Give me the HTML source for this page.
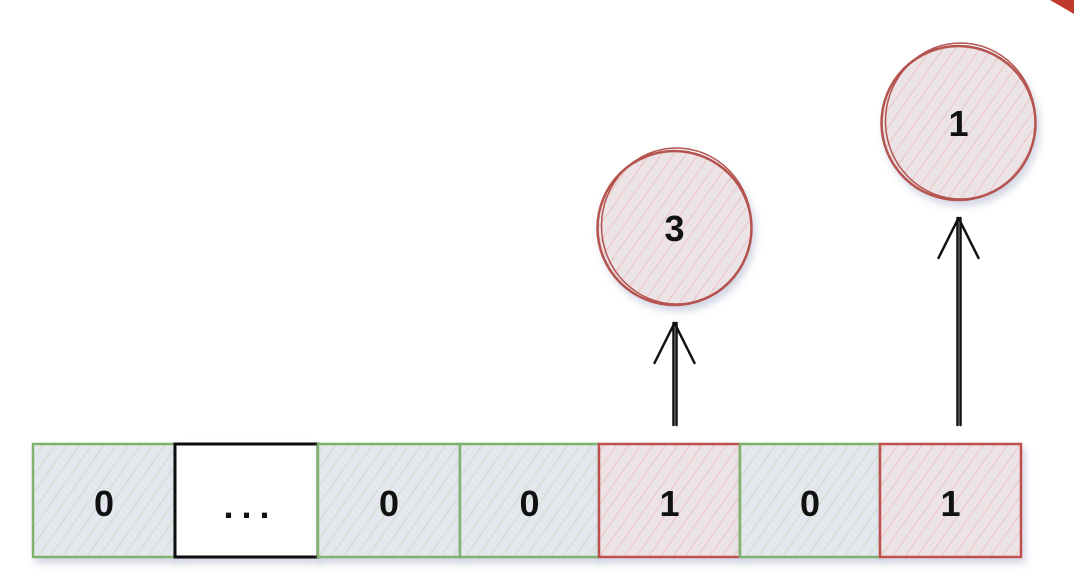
<!DOCTYPE html>
<html><head><meta charset="utf-8"><style>
html,body{margin:0;padding:0;background:#fff;width:1074px;height:574px;overflow:hidden}
svg{display:block}
text{font-family:"Liberation Sans",sans-serif;font-weight:bold;fill:#111}
</style></head><body>
<svg id="c" width="1074" height="574" viewBox="0 0 1074 574">
<defs>
<pattern id="hg" width="10" height="10" patternUnits="userSpaceOnUse" patternTransform="rotate(35)">
<rect width="10" height="10" fill="#e4e7ee"/><line x1="0" y1="0" x2="0" y2="10" stroke="#c4ddb8" stroke-width="1.5"/></pattern>
<pattern id="hr" width="10" height="10" patternUnits="userSpaceOnUse" patternTransform="rotate(35)">
<rect width="10" height="10" fill="#ebe3e6"/><line x1="0" y1="0" x2="0" y2="10" stroke="#efb8b4" stroke-width="1.5"/></pattern>
<filter id="sh" x="-20%" y="-20%" width="140%" height="140%"><feDropShadow dx="3" dy="5" stdDeviation="4" flood-color="#9aa2c0" flood-opacity="0.45"/></filter>
</defs>
<path d="M1050 0 L1074 0 L1074 14 Z" fill="#c0392b"/>
<g id="cells"></g>
<g id="circles"></g>
</svg>
<script>
const cellLabels=["0","...","0","0","1","0","1"];
const cellKinds=["g","w","g","g","r","g","r"];
const circleLabels=["3","1"];
const circleCell=[4,6];
const circleCy=[228,123];
const ns="http://www.w3.org/2000/svg";
const edges=[33,175,318,460,599,740,880,1021];
const circleDx=[5,8];
const cellTop=444,cellBot=557;
const cg=document.getElementById('cells');
const colors={g:"#7fb36d",r:"#c0504d",w:"#111"};
cellLabels.forEach((lab,i)=>{
  const x0=edges[i],x1=edges[i+1];
  const g=document.createElementNS(ns,'g');
  
  
  const r=document.createElementNS(ns,'rect');
  r.setAttribute('x',x0);r.setAttribute('y',cellTop);r.setAttribute('width',x1-x0);r.setAttribute('height',cellBot-cellTop);
  const k=cellKinds[i];
  r.setAttribute('fill',k==='g'?'url(#hg)':k==='r'?'url(#hr)':'#fff');
  r.setAttribute('stroke',colors[k]);r.setAttribute('stroke-width',k==='w'?3:2.5);
  r.setAttribute('filter','url(#sh)');
  g.appendChild(r);
  const t=document.createElementNS(ns,'text');
  t.setAttribute('x',(x0+x1)/2+(k==='w'?4:0));t.setAttribute('y',k==='w'?518:516);t.setAttribute('text-anchor','middle');
  t.setAttribute('font-size','36');t.textContent=lab;
  if(k==='w') t.setAttribute('letter-spacing','8');
  
  
  g.appendChild(t);
  cg.appendChild(g);
});
const cc=document.getElementById('circles');
circleLabels.forEach((lab,i)=>{
  const ci=circleCell[i];
  const cx=(edges[ci]+edges[ci+1])/2+circleDx[i], cy=circleCy[i], R=77;
  const g=document.createElementNS(ns,'g');
  
  
  const c=document.createElementNS(ns,'circle');
  c.setAttribute('cx',cx);c.setAttribute('cy',cy);c.setAttribute('r',R);
  c.setAttribute('fill','url(#hr)');c.setAttribute('stroke','#b5534f');c.setAttribute('stroke-width','2.5');
  c.setAttribute('filter','url(#sh)');
  g.appendChild(c);
  const c2=document.createElementNS(ns,'ellipse');
  c2.setAttribute('cx',cx+2);c2.setAttribute('cy',cy-2);c2.setAttribute('rx',R-2);c2.setAttribute('ry',R+1);
  c2.setAttribute('fill','none');c2.setAttribute('stroke','#b5534f');c2.setAttribute('stroke-width','1.5');
  g.appendChild(c2);
  const t=document.createElementNS(ns,'text');
  t.setAttribute('x',cx);t.setAttribute('y',cy+13);t.setAttribute('text-anchor','middle');
  t.setAttribute('font-size','36');t.textContent=lab;
  g.appendChild(t);
  const a=document.createElementNS(ns,'path');
  const ty=cy+R+18;
  a.setAttribute('d',`M${cx-1} 425 L${cx-1} ${ty} M${cx+2} 425 L${cx+2} ${ty} M${cx-20} ${ty+40} L${cx} ${ty} L${cx+20} ${ty+40}`);
  a.setAttribute('fill','none');a.setAttribute('stroke','#111');a.setAttribute('stroke-width','2.5');
  a.setAttribute('stroke-linecap','round');a.setAttribute('stroke-linejoin','round');
  
  
  g.appendChild(a);
  cc.appendChild(g);
});
</script>
</body></html>
